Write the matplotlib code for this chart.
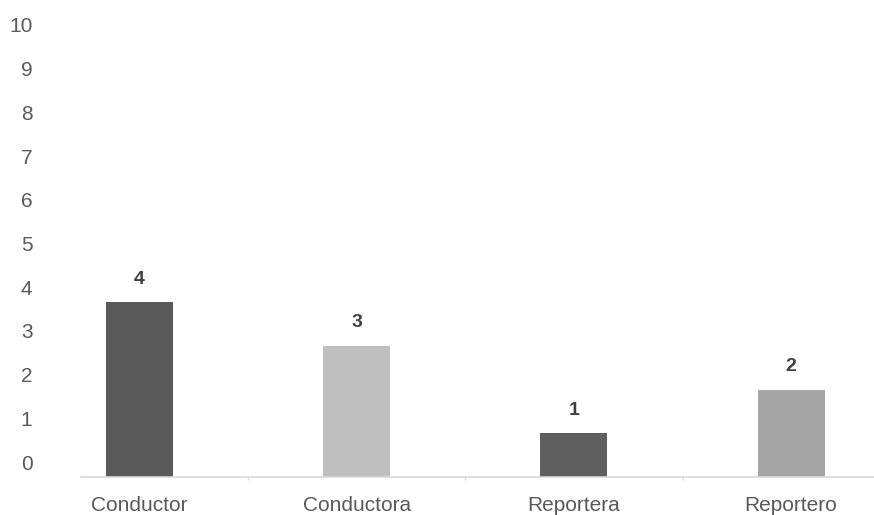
import matplotlib
matplotlib.use("Agg")
import matplotlib.pyplot as plt
from matplotlib.transforms import ScaledTranslation
from matplotlib import font_manager

categories = ["Conductor", "Conductora", "Reportera", "Reportero"]
values = [4, 3, 1, 2]
colors = ["#595959", "#bfbfbf", "#5f5f5f", "#a5a5a5"]
yticks = list(range(0, 11))

names = {f.name for f in font_manager.fontManager.ttflist}
fam = ["Liberation Sans Narrow", "Liberation Sans", "DejaVu Sans"]
fam = [f for f in fam if f in names] or ["DejaVu Sans"]
plt.rcParams["font.family"] = fam

W, H = 874, 515
fig = plt.figure(figsize=(W / 100, H / 100), dpi=100)
left, right, bottom, top = 81, 874, 477, 40
ax = fig.add_axes([left / W, (H - bottom) / H, (right - left) / W, (bottom - top) / H])

step = 217.2
x0 = 139.5
ax.set_xlim(-(x0 - left) / step, (right - x0) / step)
ax.set_ylim(0, 10)

x = list(range(len(categories)))
bars = ax.bar(x, values, width=67 / step, color=colors, zorder=2)

for xi, v in zip(x, values):
    ax.annotate(str(v), (xi, v), xytext=(0, 23), textcoords="offset pixels",
                ha="center", va="center", fontsize=14, fontweight="bold",
                color="#404040")

for s in ["top", "right", "left"]:
    ax.spines[s].set_visible(False)
ax.spines["bottom"].set_color("#d9d9d9")
ax.spines["bottom"].set_linewidth(1.2)

ax.set_xticks(x)
ax.set_xticklabels(categories, fontsize=15, color="#595959")
ax.set_xticks([0.5, 1.5, 2.5], minor=True)
ax.tick_params(axis="x", which="major", length=0, pad=14)
ax.tick_params(axis="x", which="minor", length=2, color="#d9d9d9", width=1)

ax.set_yticks(yticks)
ax.set_yticklabels([str(t) for t in yticks], fontsize=15, color="#595959")
ax.tick_params(axis="y", length=0, pad=35)
offset = ScaledTranslation(0, 15 / 100, fig.dpi_scale_trans)
for lab in ax.get_yticklabels():
    lab.set_transform(lab.get_transform() + offset)

fig.savefig("out.png", dpi=100, facecolor="white")
